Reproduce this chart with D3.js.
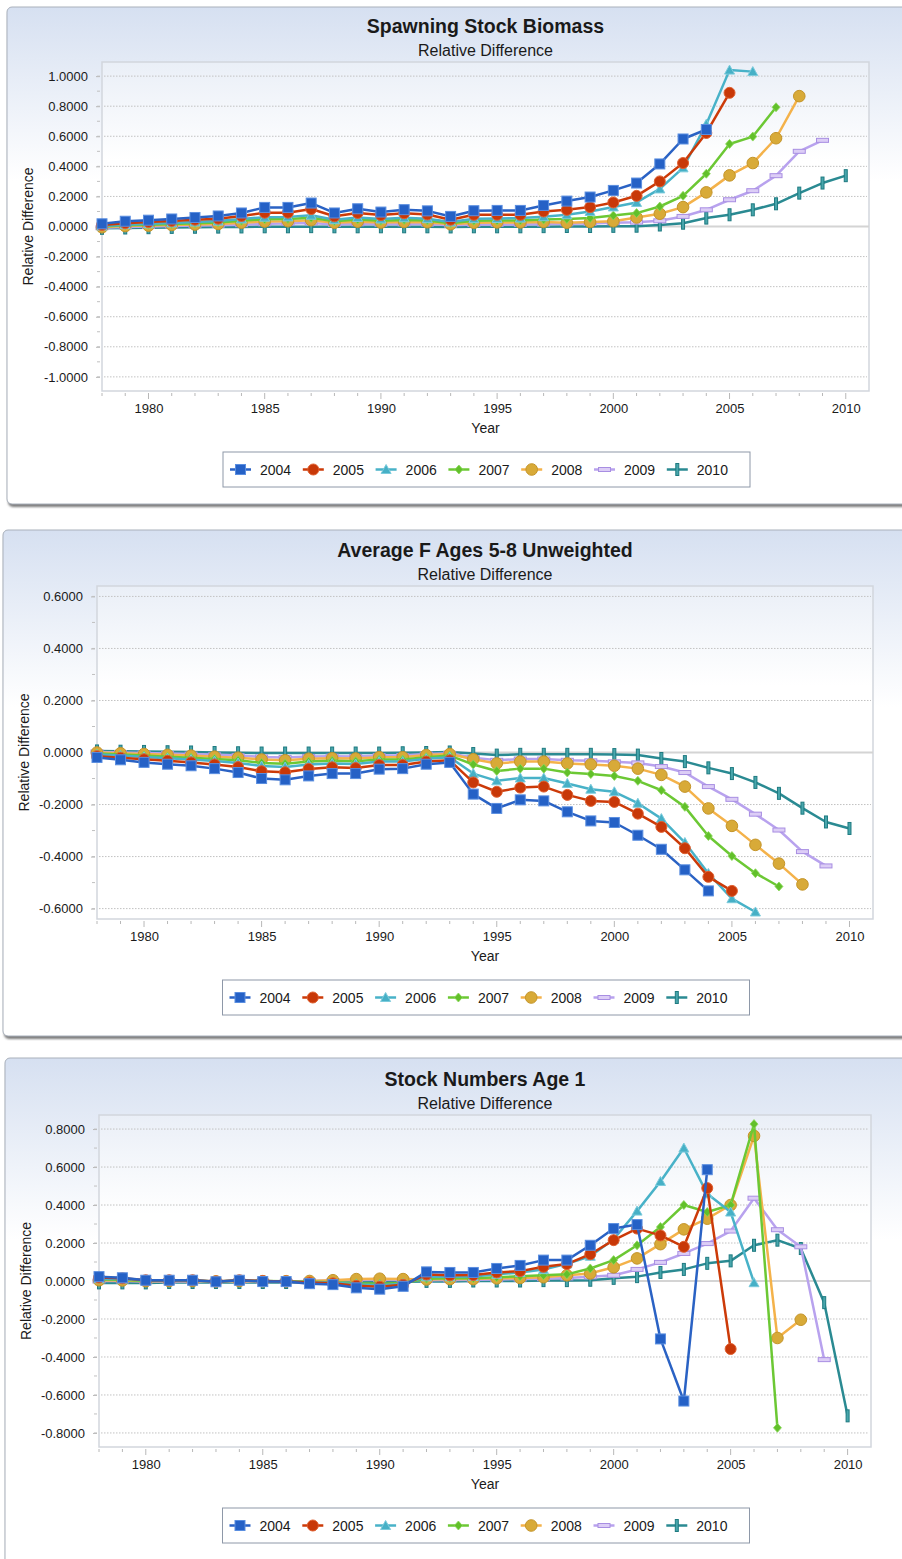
<!DOCTYPE html>
<html lang="en">
<head>
<meta charset="UTF-8">
<title>Relative Difference</title>
<script src="https://d3js.org/d3.v7.min.js"></script>
<style>
  *{padding:0; margin:0; box-sizing:border-box;}
  body{background:#fff;}
  svg{display:block;}
  text{font-family:"Liberation Sans", Arial, Helvetica, sans-serif; fill:#1a1a1a;}
  .grid line{stroke:#c2c2c2; stroke-dasharray:1.5,1.5;}
  .zero{stroke:#d4d4d4; stroke-width:2;}
  .tick line{stroke:#b8b8b8;}
  path.line{fill:none; stroke-width:2.5; stroke-linejoin:round;}
</style>
</head>
<body>
<script>
// ---- data ----
const firstYear = 1978;
const runYears = [2004, 2005, 2006, 2007, 2008, 2009, 2010];
const xTickYears = [1980, 1985, 1990, 1995, 2000, 2005, 2010];

// spawning stock biomass, one array per retrospective run (starts 1978)
const ssb2004 = [0.018,0.035,0.042,0.05,0.06,0.07,0.09,0.127,0.127,0.156,0.09,0.118,0.096,0.112,0.104,0.067,0.105,0.107,0.107,0.14,0.169,0.196,0.24,0.289,0.416,0.582,0.645];
const ssb2005 = [0.01,0.022,0.03,0.037,0.045,0.052,0.07,0.092,0.092,0.116,0.068,0.09,0.076,0.088,0.08,0.045,0.078,0.078,0.078,0.1,0.111,0.129,0.16,0.204,0.3,0.422,0.622,0.889];
const ssb2006 = [0.003,0.012,0.018,0.024,0.03,0.036,0.05,0.062,0.064,0.075,0.045,0.06,0.05,0.058,0.052,0.03,0.052,0.053,0.056,0.065,0.078,0.1,0.13,0.16,0.25,0.39,0.68,1.04,1.03];
const ssb2007 = [0.0,0.008,0.012,0.017,0.022,0.027,0.038,0.048,0.05,0.058,0.035,0.046,0.038,0.044,0.04,0.022,0.038,0.04,0.04,0.046,0.05,0.056,0.073,0.089,0.133,0.204,0.351,0.549,0.598,0.793];
const ssb2008 = [-0.005,0.003,0.006,0.01,0.013,0.017,0.025,0.033,0.035,0.042,0.025,0.032,0.026,0.03,0.028,0.015,0.025,0.027,0.027,0.03,0.025,0.03,0.035,0.06,0.085,0.129,0.227,0.34,0.422,0.587,0.867];
const ssb2009 = [-0.008,-0.003,0.0,0.003,0.006,0.008,0.012,0.018,0.02,0.024,0.014,0.018,0.015,0.017,0.016,0.008,0.013,0.014,0.014,0.016,0.018,0.02,0.025,0.029,0.038,0.067,0.111,0.178,0.238,0.338,0.5,0.573];
const ssb2010 = [-0.012,-0.01,-0.008,-0.006,-0.005,-0.004,-0.003,-0.002,-0.002,-0.001,-0.002,-0.002,-0.002,-0.002,-0.002,-0.003,-0.002,-0.002,-0.002,-0.001,0.0,0.0,0.001,0.002,0.01,0.022,0.056,0.078,0.111,0.151,0.222,0.289,0.338];

// average F ages 5-8
const f2004 = [-0.019,-0.028,-0.038,-0.045,-0.051,-0.062,-0.077,-0.1,-0.105,-0.09,-0.081,-0.081,-0.064,-0.062,-0.045,-0.038,-0.16,-0.215,-0.182,-0.186,-0.228,-0.263,-0.269,-0.318,-0.372,-0.451,-0.532];
const f2005 = [-0.014,-0.02,-0.026,-0.032,-0.038,-0.046,-0.056,-0.072,-0.076,-0.063,-0.057,-0.06,-0.048,-0.048,-0.035,-0.03,-0.115,-0.151,-0.135,-0.131,-0.163,-0.186,-0.19,-0.235,-0.286,-0.368,-0.478,-0.532];
const f2006 = [-0.008,-0.012,-0.017,-0.022,-0.027,-0.033,-0.04,-0.052,-0.056,-0.046,-0.042,-0.044,-0.035,-0.035,-0.024,-0.018,-0.081,-0.109,-0.098,-0.098,-0.119,-0.141,-0.151,-0.195,-0.254,-0.346,-0.465,-0.562,-0.613];
const f2007 = [-0.004,-0.008,-0.012,-0.016,-0.02,-0.025,-0.03,-0.04,-0.043,-0.035,-0.032,-0.034,-0.027,-0.027,-0.018,-0.012,-0.046,-0.071,-0.062,-0.062,-0.077,-0.083,-0.09,-0.109,-0.145,-0.209,-0.321,-0.398,-0.464,-0.515];
const f2008 = [0.0,-0.003,-0.006,-0.009,-0.012,-0.016,-0.02,-0.027,-0.03,-0.024,-0.022,-0.023,-0.018,-0.018,-0.01,-0.006,-0.026,-0.042,-0.035,-0.035,-0.042,-0.046,-0.051,-0.062,-0.086,-0.131,-0.215,-0.282,-0.355,-0.427,-0.507];
const f2009 = [0.002,0.0,-0.002,-0.004,-0.006,-0.009,-0.012,-0.017,-0.019,-0.015,-0.014,-0.015,-0.012,-0.012,-0.006,-0.003,-0.02,-0.03,-0.025,-0.025,-0.03,-0.032,-0.036,-0.04,-0.054,-0.077,-0.131,-0.18,-0.237,-0.298,-0.381,-0.436];
const f2010 = [0.006,0.005,0.004,0.003,0.002,0.0,-0.001,-0.002,-0.002,-0.002,-0.002,-0.002,-0.002,-0.001,0.0,0.002,-0.004,-0.01,-0.007,-0.007,-0.007,-0.007,-0.008,-0.01,-0.023,-0.035,-0.059,-0.081,-0.115,-0.157,-0.214,-0.267,-0.292];

// stock numbers age 1
const n2004 = [0.023,0.017,0.004,0.004,0.004,-0.004,0.004,-0.003,-0.003,-0.014,-0.019,-0.036,-0.043,-0.028,0.048,0.045,0.045,0.066,0.082,0.11,0.11,0.188,0.276,0.297,-0.305,-0.632,0.586];
const n2005 = [0.018,0.014,0.004,0.004,0.004,-0.002,0.004,0.0,-0.002,-0.008,-0.012,-0.025,-0.03,-0.02,0.034,0.03,0.031,0.045,0.052,0.075,0.089,0.141,0.215,0.276,0.24,0.18,0.489,-0.358];
const n2006 = [0.012,0.01,0.002,0.003,0.003,-0.002,0.003,0.0,-0.002,-0.006,-0.008,-0.018,-0.022,-0.014,0.022,0.022,0.024,0.035,0.045,0.06,0.09,0.13,0.22,0.368,0.524,0.7,0.459,0.363,-0.009];
const n2007 = [0.008,0.006,0.0,0.002,0.002,-0.002,0.002,0.0,-0.001,-0.004,-0.006,-0.012,-0.015,-0.01,0.012,0.014,0.015,0.02,0.025,0.03,0.035,0.066,0.11,0.188,0.284,0.4,0.363,0.4,0.826,-0.773];
const n2008 = [0.004,0.003,-0.001,0.0,0.0,-0.002,0.0,-0.001,-0.001,0.0,0.004,0.01,0.012,0.01,0.008,0.01,0.01,0.014,0.016,0.02,0.03,0.04,0.072,0.119,0.194,0.272,0.328,0.4,0.764,-0.3,-0.204];
const n2009 = [0.0,0.0,-0.003,-0.002,-0.002,-0.003,-0.002,-0.002,-0.002,0.0,0.002,0.005,0.006,0.005,0.004,0.005,0.006,0.008,0.01,0.012,0.016,0.022,0.03,0.061,0.098,0.145,0.197,0.263,0.436,0.27,0.18,-0.414];
const n2010 = [-0.01,-0.01,-0.01,-0.008,-0.008,-0.008,-0.008,-0.008,-0.008,-0.006,-0.006,-0.004,-0.004,-0.004,-0.002,-0.002,0.0,0.0,0.0,0.002,0.002,0.004,0.014,0.023,0.045,0.061,0.093,0.106,0.188,0.215,0.171,-0.114,-0.71];

const ssbYTicks = [-1, -0.8, -0.6, -0.4, -0.2, 0, 0.2, 0.4, 0.6, 0.8, 1];
const fYTicks = [-0.6, -0.4, -0.2, 0, 0.2, 0.4, 0.6];
const nYTicks = [-0.8, -0.6, -0.4, -0.2, 0, 0.2, 0.4, 0.6, 0.8];

// ---- styling for each run ----
const runStyle = {
  2004: {line:"#2a62c4", fill:"#2561c6", edge:"#5a8ee0", shape:"square"},
  2005: {line:"#cc3a08", fill:"#c83808", edge:"#e06030", shape:"circle"},
  2006: {line:"#48b2c8", fill:"#46b0c6", edge:"#7ccbdc", shape:"triangle"},
  2007: {line:"#6cc834", fill:"#62c02a", edge:"#8ad85a", shape:"diamond"},
  2008: {line:"#f4b24a", fill:"#d8aa38", edge:"#c49428", shape:"ball"},
  2009: {line:"#b8a2ee", fill:"#dccdf6", edge:"#a88ee2", shape:"dash"},
  2010: {line:"#2a8a92", fill:"#48a6ac", edge:"#1e7a80", shape:"bar"}
};

const panels = [
  {title:"Spawning Stock Biomass", runs:[ssb2004,ssb2005,ssb2006,ssb2007,ssb2008,ssb2009,ssb2010], yTicks:ssbYTicks, yMax:1.094,
   box:{x:7, y:7, w:900, h:497}, plot:{l:102, r:869, t:62, b:391}},
  {title:"Average F Ages 5-8 Unweighted", runs:[f2004,f2005,f2006,f2007,f2008,f2009,f2010], yTicks:fYTicks, yMax:0.64,
   box:{x:3, y:530, w:904, h:506}, plot:{l:97, r:873, t:586, b:919}},
  {title:"Stock Numbers Age 1", runs:[n2004,n2005,n2006,n2007,n2008,n2009,n2010], yTicks:nYTicks, yMax:0.874,
   box:{x:5, y:1058, w:902, h:520}, plot:{l:99, r:871, t:1115, b:1447}}
];

const svg = d3.select("body").append("svg").attr("width", 902).attr("height", 1559);
const defs = svg.append("defs");

let panelGrad = defs.append("linearGradient").attr("id", "panelGrad").attr("x1",0).attr("y1",0).attr("x2",0).attr("y2",1);
panelGrad.append("stop").attr("offset", "0%").attr("stop-color", "#d6e0f1");
panelGrad.append("stop").attr("offset", "35%").attr("stop-color", "#ffffff");
panelGrad.append("stop").attr("offset", "100%").attr("stop-color", "#ffffff");

let plotGrad = defs.append("linearGradient").attr("id", "plotGrad").attr("x1",0).attr("y1",0).attr("x2",0).attr("y2",1);
plotGrad.append("stop").attr("offset", "0%").attr("stop-color", "#eaeff7");
plotGrad.append("stop").attr("offset", "30%").attr("stop-color", "#ffffff");
plotGrad.append("stop").attr("offset", "100%").attr("stop-color", "#ffffff");

defs.append("filter").attr("id", "blur").append("feGaussianBlur").attr("stdDeviation", 1.2);

function drawMarker(g, shape, st, x, y) {
  if (shape === "square") {
    g.append("rect").attr("x", x-5).attr("y", y-5).attr("width", 10).attr("height", 10)
      .attr("fill", st.fill).attr("stroke", st.edge).attr("stroke-width", 1);
  } else if (shape === "circle" || shape === "ball") {
    g.append("circle").attr("cx", x).attr("cy", y).attr("r", shape === "ball" ? 5.8 : 5.5)
      .attr("fill", st.fill).attr("stroke", st.edge).attr("stroke-width", 1);
  } else if (shape === "triangle") {
    g.append("path").attr("d", `M${x},${y-5} L${x+5},${y+4} L${x-5},${y+4} Z`)
      .attr("fill", st.fill).attr("stroke", st.edge).attr("stroke-width", 1);
  } else if (shape === "diamond") {
    g.append("path").attr("d", `M${x},${y-4.5} L${x+4},${y} L${x},${y+4.5} L${x-4},${y} Z`)
      .attr("fill", st.fill).attr("stroke", st.edge).attr("stroke-width", 0.8);
  } else if (shape === "dash") {
    g.append("rect").attr("x", x-6).attr("y", y-2).attr("width", 12).attr("height", 4)
      .attr("fill", st.fill).attr("stroke", st.edge).attr("stroke-width", 1);
  } else if (shape === "bar") {
    g.append("rect").attr("x", x-1.5).attr("y", y-6).attr("width", 3).attr("height", 12)
      .attr("fill", st.fill).attr("stroke", st.edge).attr("stroke-width", 1);
  }
}

panels.forEach(function(p) {
  const g = svg.append("g");
  const b = p.box, pl = p.plot;

  // panel frame with shadow
  g.append("rect").attr("x", b.x+1).attr("y", b.y+3).attr("width", b.w).attr("height", b.h)
    .attr("rx", 5).attr("fill", "#7c7c7c").attr("filter", "url(#blur)");
  g.append("rect").attr("x", b.x).attr("y", b.y).attr("width", b.w).attr("height", b.h)
    .attr("rx", 5).attr("fill", "url(#panelGrad)").attr("stroke", "#a9b0bb").attr("stroke-width", 1);

  const x = d3.scaleLinear().domain([firstYear, 2011]).range([pl.l, pl.r]);
  const y = d3.scaleLinear().domain([-p.yMax, p.yMax]).range([pl.b, pl.t]);
  const cx = (pl.l + pl.r) / 2;

  // titles
  g.append("text").attr("x", cx).attr("y", pl.t - 29).attr("text-anchor", "middle")
    .attr("font-size", 19.5).attr("font-weight", "bold").text(p.title);
  g.append("text").attr("x", cx).attr("y", pl.t - 6).attr("text-anchor", "middle")
    .attr("font-size", 16).text("Relative Difference");

  // plot area
  g.append("rect").attr("x", pl.l).attr("y", pl.t).attr("width", pl.r - pl.l).attr("height", pl.b - pl.t)
    .attr("fill", "url(#plotGrad)").attr("stroke", "#d2d6dd").attr("stroke-width", 1.5);

  // gridlines
  g.append("g").attr("class", "grid").selectAll("line")
    .data(p.yTicks.filter(function(v){ return v !== 0; })).enter().append("line")
    .attr("x1", pl.l + 2).attr("x2", pl.r - 2)
    .attr("y1", function(d){ return y(d); }).attr("y2", function(d){ return y(d); });
  g.append("line").attr("class", "zero").attr("x1", pl.l).attr("x2", pl.r).attr("y1", y(0)).attr("y2", y(0));

  // y axis
  const minorY = d3.range(-p.yMax, p.yMax, 0.1).map(function(v){ return Math.round(v*10)/10; })
    .filter(function(v){ return Math.abs(v) <= p.yMax; });
  const yAxis = d3.axisLeft(y).tickValues(p.yTicks).tickFormat(d3.format(".4f")).tickSize(4).tickPadding(8);
  const yg = g.append("g").attr("transform", `translate(${pl.l - 2},0)`).call(yAxis);
  yg.select(".domain").remove();
  yg.selectAll("text").attr("font-size", 13).attr("font-family", null).attr("fill", "#1a1a1a")
    .text(function(d){ return d3.format(".4f")(d).replace("−", "-"); });
  g.append("g").selectAll("line").data(minorY).enter().append("line")
    .attr("x1", pl.l - 5).attr("x2", pl.l - 2)
    .attr("y1", function(d){ return y(d); }).attr("y2", function(d){ return y(d); })
    .attr("stroke", "#c0c0c0");

  // x axis
  const yearTicks = d3.range(firstYear, 2011);
  g.append("g").selectAll("line").data(yearTicks).enter().append("line")
    .attr("x1", function(d){ return x(d); }).attr("x2", function(d){ return x(d); })
    .attr("y1", pl.b + 2).attr("y2", function(d){ return pl.b + (d % 5 === 0 ? 8 : 5); })
    .attr("stroke", "#b8b8b8");
  const xAxis = d3.axisBottom(x).tickValues(xTickYears).tickFormat(d3.format("d")).tickSize(0).tickPadding(13);
  const xg = g.append("g").attr("transform", `translate(0,${pl.b})`).call(xAxis);
  xg.select(".domain").remove();
  xg.selectAll("text").attr("font-size", 13).attr("font-family", null).attr("fill", "#1a1a1a");

  g.append("text").attr("x", cx).attr("y", pl.b + 42).attr("text-anchor", "middle")
    .attr("font-size", 14).text("Year");
  g.append("text").attr("transform", `translate(${b.x + 26},${(pl.t + pl.b) / 2}) rotate(-90)`)
    .attr("text-anchor", "middle").attr("font-size", 14).text("Relative Difference");

  // series, last run first so 2004 sits on top
  const line = d3.line().x(function(d){ return x(d.year); }).y(function(d){ return y(d.value); });
  runYears.slice().reverse().forEach(function(run) {
    const idx = runYears.indexOf(run);
    const st = runStyle[run];
    const pts = p.runs[idx].map(function(v, i){ return {year: firstYear + i, value: v}; });
    const sg = g.append("g");
    sg.append("path").attr("class", "line").attr("d", line(pts)).attr("stroke", st.line);
    pts.forEach(function(d){ drawMarker(sg, st.shape, st, x(d.year), y(d.value)); });
  });

  // legend
  const lw = 527, lh = 35;
  const lx = cx + 1 - lw / 2, ly = pl.b + 61;
  const lg = g.append("g").attr("transform", `translate(${lx},${ly})`);
  lg.append("rect").attr("width", lw).attr("height", lh).attr("fill", "#fff")
    .attr("stroke", "#8e98a8").attr("stroke-width", 1);
  runYears.forEach(function(run, i) {
    const st = runStyle[run];
    const ix = 7 + i * 72.8;
    lg.append("line").attr("x1", ix).attr("x2", ix + 21).attr("y1", lh/2).attr("y2", lh/2)
      .attr("stroke", st.line).attr("stroke-width", 2.5);
    drawMarker(lg, st.shape, st, ix + 10.5, lh/2);
    lg.append("text").attr("x", ix + 30).attr("y", lh/2).attr("dy", "0.36em")
      .attr("font-size", 14).text(run);
  });
});
</script>
</body>
</html>
